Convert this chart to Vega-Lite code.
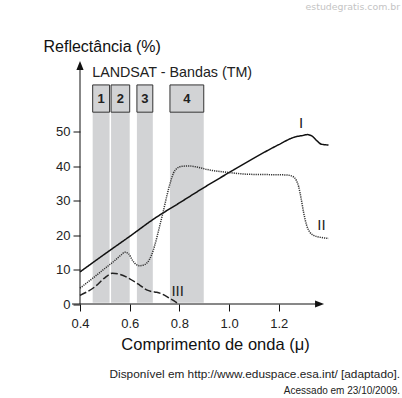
{
  "$schema": "https://vega.github.io/schema/vega-lite/v6.json",
  "width": 248.5,
  "height": 241.5,
  "autosize": {"type": "none"},
  "padding": {"left": 80, "top": 62.5, "right": 73.5, "bottom": 94},
  "background": "white",
  "config": {
    "font": "Liberation Sans",
    "view": {"stroke": null},
    "axis": {"domain": false, "grid": false, "labelFlush": false, "labelOverlap": false, "tickColor": "#111", "tickSize": 7, "labelFontSize": 13, "labelColor": "#222", "titleColor": "#111", "titleFontWeight": "normal"}
  },
  "datasets": {
    "one": [{}],
    "bands": [
      {"band": "1", "start": 0.451, "end": 0.519, "mid": 0.485},
      {"band": "2", "start": 0.525, "end": 0.6, "mid": 0.5625},
      {"band": "3", "start": 0.629, "end": 0.693, "mid": 0.661},
      {"band": "4", "start": 0.762, "end": 0.898, "mid": 0.83}
    ],
    "curves": [
      {"series": "I", "w": 0.4, "r": 9.3},
      {"series": "I", "w": 0.5, "r": 14.5},
      {"series": "I", "w": 0.6, "r": 19.6},
      {"series": "I", "w": 0.7, "r": 24.8},
      {"series": "I", "w": 0.8, "r": 29.3},
      {"series": "I", "w": 0.9, "r": 33.8},
      {"series": "I", "w": 1.0, "r": 38.1},
      {"series": "I", "w": 1.1, "r": 42.3},
      {"series": "I", "w": 1.2, "r": 46.2},
      {"series": "I", "w": 1.26, "r": 48.3},
      {"series": "I", "w": 1.3, "r": 48.9},
      {"series": "I", "w": 1.315, "r": 49.1},
      {"series": "I", "w": 1.335, "r": 48.6},
      {"series": "I", "w": 1.355, "r": 47.2},
      {"series": "I", "w": 1.372, "r": 46.3},
      {"series": "I", "w": 1.4, "r": 46.1},
      {"series": "II", "w": 0.4, "r": 4.6},
      {"series": "II", "w": 0.45, "r": 7.4},
      {"series": "II", "w": 0.5, "r": 10.3},
      {"series": "II", "w": 0.54, "r": 12.6},
      {"series": "II", "w": 0.565, "r": 14.2},
      {"series": "II", "w": 0.58, "r": 15.0},
      {"series": "II", "w": 0.595, "r": 14.6},
      {"series": "II", "w": 0.61, "r": 12.8},
      {"series": "II", "w": 0.625, "r": 11.5},
      {"series": "II", "w": 0.641, "r": 11.1},
      {"series": "II", "w": 0.66, "r": 11.4},
      {"series": "II", "w": 0.675, "r": 12.4},
      {"series": "II", "w": 0.688, "r": 14.2},
      {"series": "II", "w": 0.7, "r": 16.8},
      {"series": "II", "w": 0.722, "r": 23.0},
      {"series": "II", "w": 0.735, "r": 26.8},
      {"series": "II", "w": 0.75, "r": 31.5},
      {"series": "II", "w": 0.765, "r": 35.6},
      {"series": "II", "w": 0.776, "r": 37.9},
      {"series": "II", "w": 0.79, "r": 39.3},
      {"series": "II", "w": 0.81, "r": 39.9},
      {"series": "II", "w": 0.84, "r": 40.0},
      {"series": "II", "w": 0.87, "r": 39.7},
      {"series": "II", "w": 0.91, "r": 39.0},
      {"series": "II", "w": 1.0, "r": 38.1},
      {"series": "II", "w": 1.08, "r": 37.6},
      {"series": "II", "w": 1.16, "r": 37.5},
      {"series": "II", "w": 1.232, "r": 37.4},
      {"series": "II", "w": 1.255, "r": 37.0},
      {"series": "II", "w": 1.27, "r": 35.9},
      {"series": "II", "w": 1.28, "r": 34.0},
      {"series": "II", "w": 1.29, "r": 30.5},
      {"series": "II", "w": 1.3, "r": 26.5},
      {"series": "II", "w": 1.312, "r": 22.8},
      {"series": "II", "w": 1.325, "r": 20.8},
      {"series": "II", "w": 1.34, "r": 19.9},
      {"series": "II", "w": 1.37, "r": 19.3},
      {"series": "II", "w": 1.4, "r": 19.0},
      {"series": "III", "w": 0.4, "r": 2.5},
      {"series": "III", "w": 0.46, "r": 5.0},
      {"series": "III", "w": 0.5, "r": 7.6},
      {"series": "III", "w": 0.53, "r": 8.9},
      {"series": "III", "w": 0.56, "r": 8.6},
      {"series": "III", "w": 0.6, "r": 7.3},
      {"series": "III", "w": 0.64, "r": 5.5},
      {"series": "III", "w": 0.668, "r": 4.1},
      {"series": "III", "w": 0.69, "r": 3.6},
      {"series": "III", "w": 0.709, "r": 3.4},
      {"series": "III", "w": 0.73, "r": 2.9},
      {"series": "III", "w": 0.76, "r": 1.7},
      {"series": "III", "w": 0.796, "r": 0.1}
    ],
    "labels": [
      {"label": "I", "w": 1.29, "r": 52.5},
      {"label": "II", "w": 1.372, "r": 23.0},
      {"label": "III", "w": 0.793, "r": 3.8}
    ]
  },
  "layer": [
    {
      "data": {"name": "bands"},
      "mark": {"type": "rect", "color": "#d2d3d5"},
      "encoding": {
        "x": {"field": "start", "type": "quantitative", "scale": {"domain": [0.4, 1.4], "nice": false, "zero": false},
          "axis": {"values": [0.4, 0.6, 0.8, 1.0, 1.2], "format": ".1f", "labelPadding": 6, "title": "Comprimento de onda (μ)", "titleFontSize": 16.5, "titleX": 135, "titleY": 45, "titleAlign": "center", "titleBaseline": "alphabetic"}},
        "x2": {"field": "end"},
        "y": {"datum": 0.38, "type": "quantitative", "scale": {"domain": [0, 70], "nice": false},
          "axis": {"values": [0, 10, 20, 30, 40, 50], "labelPadding": 3, "title": "Reflectância (%)", "titleFontSize": 16, "titleAngle": 0, "titleAlign": "left", "titleBaseline": "alphabetic", "titleX": -37, "titleY": -11.5}},
        "y2": {"datum": 55.6}
      }
    },
    {
      "data": {"name": "bands"},
      "mark": {"type": "rect", "color": "#d2d3d5", "stroke": "#333", "strokeWidth": 1},
      "encoding": {
        "x": {"field": "start", "type": "quantitative"},
        "x2": {"field": "end"},
        "y": {"datum": 55.6},
        "y2": {"datum": 63.5}
      }
    },
    {
      "data": {"name": "bands"},
      "mark": {"type": "text", "fontSize": 13, "fontWeight": "bold", "color": "#222", "baseline": "middle", "align": "center"},
      "encoding": {
        "x": {"field": "mid", "type": "quantitative"},
        "y": {"datum": 59.4},
        "text": {"field": "band"}
      }
    },
    {
      "data": {"name": "curves"},
      "mark": {"type": "line", "interpolate": "monotone", "strokeWidth": 1.5},
      "encoding": {
        "x": {"field": "w", "type": "quantitative"},
        "y": {"field": "r", "type": "quantitative"},
        "detail": {"field": "series"},
        "color": {"field": "series", "type": "nominal", "scale": {"domain": ["I", "II", "III"], "range": ["#111", "#333", "#222"]}, "legend": null},
        "strokeDash": {"field": "series", "type": "nominal", "scale": {"domain": ["I", "II", "III"], "range": [[1, 0], [1.2, 1], [7, 2.5]]}, "legend": null}
      }
    },
    {
      "data": {"name": "labels"},
      "mark": {"type": "text", "fontSize": 15, "color": "#222", "baseline": "middle", "align": "center"},
      "encoding": {
        "x": {"field": "w", "type": "quantitative"},
        "y": {"field": "r", "type": "quantitative"},
        "text": {"field": "label"}
      }
    },
    {
      "data": {"name": "one"},
      "mark": {"type": "rule", "color": "#111", "strokeWidth": 1},
      "encoding": {"x": {"datum": 0.368}, "x2": {"datum": 1.36}, "y": {"datum": 0}}
    },
    {
      "data": {"name": "one"},
      "mark": {"type": "rule", "color": "#111", "strokeWidth": 1},
      "encoding": {"x": {"datum": 0.4}, "y": {"datum": 0}, "y2": {"datum": 68.5}}
    },
    {
      "data": {"name": "one"},
      "mark": {"type": "point", "shape": "M1,0L-1,-0.8L-1,0.8Z", "filled": true, "size": 81, "color": "#111", "opacity": 1},
      "encoding": {"x": {"datum": 1.364}, "y": {"datum": 0}}
    },
    {
      "data": {"name": "one"},
      "mark": {"type": "point", "shape": "M0,-1L-0.8,1L0.8,1Z", "filled": true, "size": 81, "color": "#111", "opacity": 1},
      "encoding": {"x": {"datum": 0.4}, "y": {"datum": 69.1}}
    },
    {
      "data": {"name": "one"},
      "mark": {"type": "text", "fontSize": 14.3, "color": "#222", "align": "left", "baseline": "alphabetic"},
      "encoding": {"x": {"datum": 0.449}, "y": {"datum": 65.7}, "text": {"value": "LANDSAT - Bandas (TM)"}}
    },
    {
      "data": {"name": "one"},
      "mark": {"type": "text", "fontSize": 11.8, "color": "#222", "align": "right", "baseline": "alphabetic"},
      "encoding": {"x": {"datum": 1.688}, "y": {"datum": -21.4}, "text": {"value": "Disponível em http://www.eduspace.esa.int/ [adaptado]."}}
    },
    {
      "data": {"name": "one"},
      "mark": {"type": "text", "fontSize": 10, "color": "#222", "align": "right", "baseline": "alphabetic"},
      "encoding": {"x": {"datum": 1.688}, "y": {"datum": -26.1}, "text": {"value": "Acessado em 23/10/2009."}}
    },
    {
      "data": {"name": "one"},
      "mark": {"type": "text", "fontSize": 9.4, "font": "DejaVu Sans", "color": "#c4c4c4", "align": "right", "baseline": "alphabetic"},
      "encoding": {"x": {"datum": 1.688}, "y": {"datum": 85.1}, "text": {"value": "estudegratis.com.br"}}
    }
  ]
}
